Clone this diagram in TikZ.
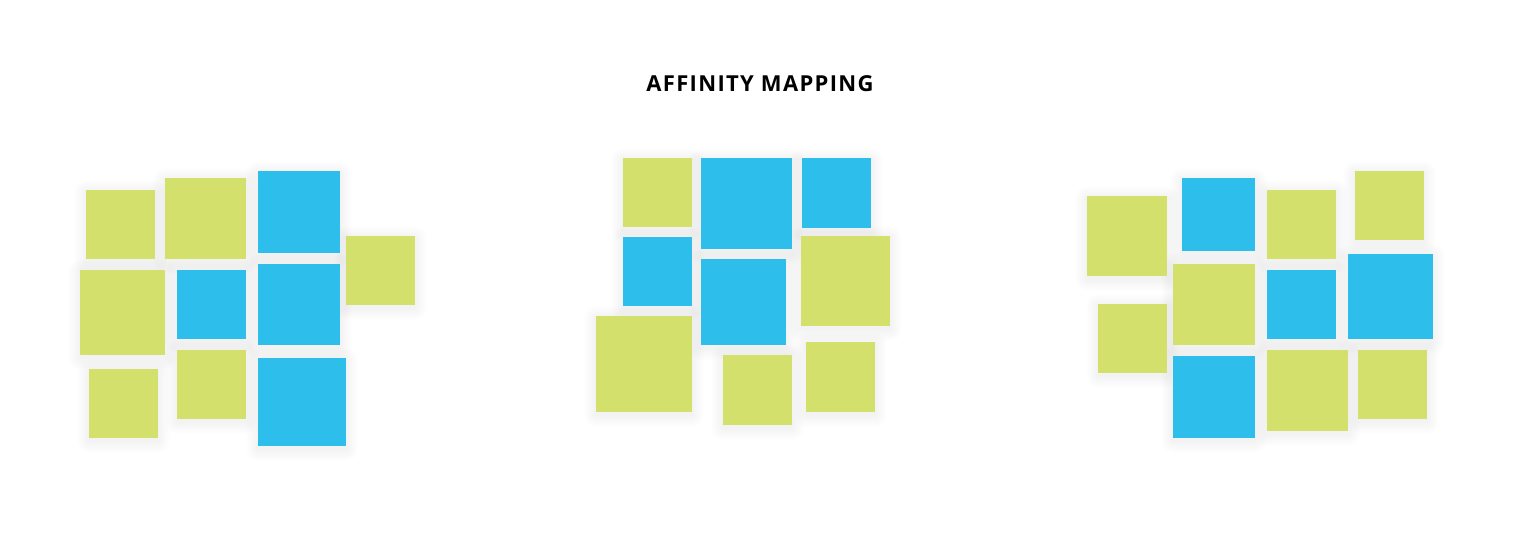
\documentclass[tikz,border=0pt]{standalone}
\usepackage{fontspec}
\usepackage{tikz}
\usetikzlibrary{backgrounds}
\newfontfamily\titlefont[LetterSpace=6]{Open Sans}
\definecolor{notegreen}{RGB}{211,224,107}
\definecolor{noteblue}{RGB}{46,190,236}
\tikzset{
    note/.style={anchor=north west, inner sep=0pt, outer sep=0pt, draw=none},
    gnote/.style={note, fill=notegreen},
    bnote/.style={note, fill=noteblue},
    softshadow/.style={fill=black, opacity=0.0045},
}

\begin{document}
\begin{tikzpicture}[x=1pt, y=-1pt]
        \useasboundingbox (0,0) rectangle (1531,548);

        % Title
        \node[anchor=center, font=\titlefont\bfseries\fontsize{22}{26}\selectfont] (title) at (760,84) {AFFINITY MAPPING};

        % Left Cluster
        \node[gnote, minimum width=69pt, minimum height=69pt] (l-a) at (86,190) {};
        \node[gnote, minimum width=81pt, minimum height=81pt] (l-b) at (165,178) {};
        \node[bnote, minimum width=82pt, minimum height=82pt] (l-c) at (258,171) {};
        \node[gnote, minimum width=69pt, minimum height=69pt] (l-d) at (346,236) {};
        \node[gnote, minimum width=85pt, minimum height=85pt] (l-e) at (80,270) {};
        \node[bnote, minimum width=69pt, minimum height=69pt] (l-f) at (177,270) {};
        \node[bnote, minimum width=82pt, minimum height=81pt] (l-g) at (258,264) {};
        \node[gnote, minimum width=69pt, minimum height=69pt] (l-h) at (89,369) {};
        \node[gnote, minimum width=69pt, minimum height=69pt] (l-i) at (177,350) {};
        \node[bnote, minimum width=88pt, minimum height=88pt] (l-j) at (258,358) {};

        % Middle Cluster
        \node[gnote, minimum width=69pt, minimum height=69pt] (m-a) at (623,158) {};
        \node[bnote, minimum width=91pt, minimum height=91pt] (m-b) at (701,158) {};
        \node[bnote, minimum width=69pt, minimum height=70pt] (m-c) at (802,158) {};
        \node[bnote, minimum width=69pt, minimum height=69pt] (m-d) at (623,237) {};
        \node[bnote, minimum width=85pt, minimum height=86pt] (m-e) at (701,259) {};
        \node[gnote, minimum width=89pt, minimum height=90pt] (m-f) at (801,236) {};
        \node[gnote, minimum width=96pt, minimum height=96pt] (m-g) at (596,316) {};
        \node[gnote, minimum width=69pt, minimum height=70pt] (m-h) at (723,355) {};
        \node[gnote, minimum width=69pt, minimum height=70pt] (m-i) at (806,342) {};

        % Right Cluster
        \node[gnote, minimum width=80pt, minimum height=80pt] (r-a) at (1087,196) {};
        \node[bnote, minimum width=73pt, minimum height=73pt] (r-b) at (1182,178) {};
        \node[gnote, minimum width=69pt, minimum height=69pt] (r-c) at (1267,190) {};
        \node[gnote, minimum width=69pt, minimum height=69pt] (r-d) at (1355,171) {};
        \node[gnote, minimum width=69pt, minimum height=69pt] (r-e) at (1098,304) {};
        \node[gnote, minimum width=82pt, minimum height=81pt] (r-f) at (1173,264) {};
        \node[bnote, minimum width=69pt, minimum height=69pt] (r-g) at (1267,270) {};
        \node[bnote, minimum width=85pt, minimum height=85pt] (r-h) at (1348,254) {};
        \node[bnote, minimum width=82pt, minimum height=82pt] (r-i) at (1173,356) {};
        \node[gnote, minimum width=81pt, minimum height=81pt] (r-j) at (1267,350) {};
        \node[gnote, minimum width=69pt, minimum height=69pt] (r-k) at (1358,350) {};

        % Soft Shadows
        \begin{scope}[on background layer]
            \fill[white] (0,0) rectangle (1531,548);
            \foreach \n in {l-a,l-b,l-c,l-d,l-e,l-f,l-g,l-h,l-i,l-j,
                            m-a,m-b,m-c,m-d,m-e,m-f,m-g,m-h,m-i,
                            r-a,r-b,r-c,r-d,r-e,r-f,r-g,r-h,r-i,r-j,r-k}
                \foreach \s in {1,...,12}
                    \fill[softshadow, rounded corners=\s pt] ([shift={(-\s,-\s+2)}]\n.north west) rectangle ([shift={(\s,\s+3)}]\n.south east);
        \end{scope}

    \end{tikzpicture}
\end{document}
